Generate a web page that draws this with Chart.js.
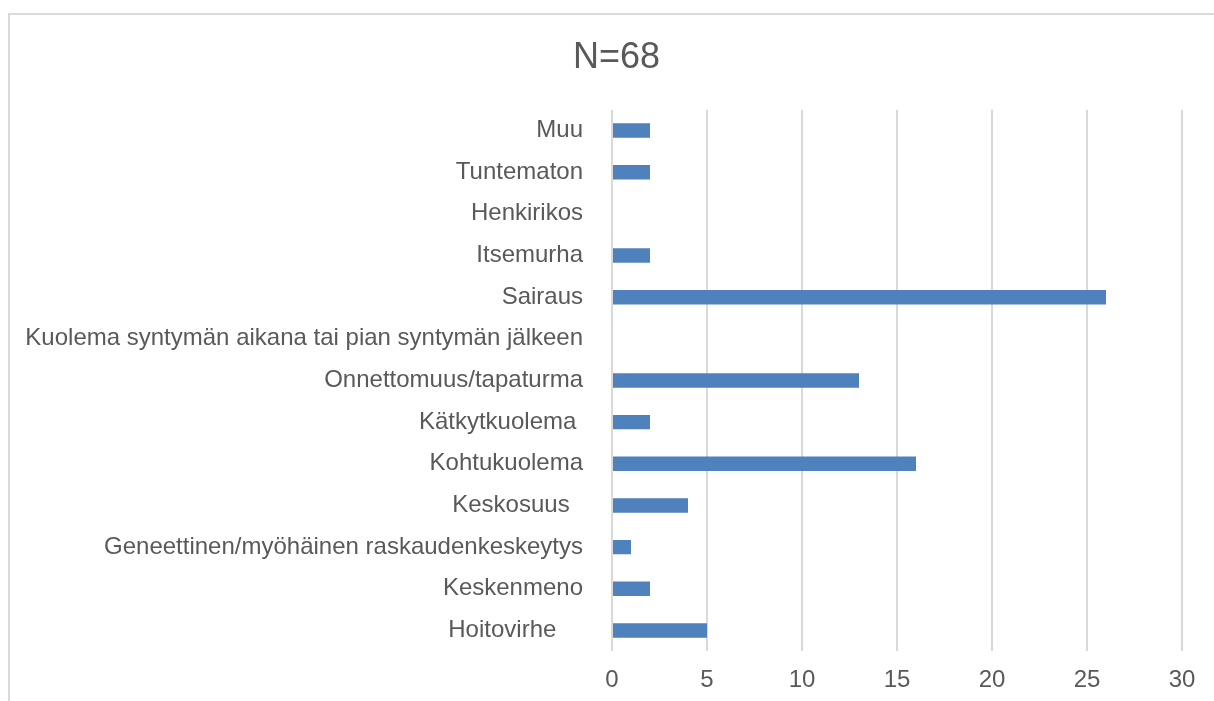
<!DOCTYPE html>
<html>
<head>
<meta charset="utf-8">
<script src="https://cdn.jsdelivr.net/npm/chart.js@4/dist/chart.umd.min.js"></script>
<style>
  html, body { margin: 0; padding: 0; background: #ffffff; }
  #wrap { position: relative; width: 1214px; height: 701px; overflow: hidden; }
  #frame { position: absolute; left: 8px; top: 13px; width: 1300px; height: 800px;
           border-left: 2px solid #d9d9d9; border-top: 2px solid #d9d9d9; pointer-events: none; }
  canvas { position: absolute; left: 0; top: 0; }
</style>
</head>
<body>
<div id="wrap">
  <canvas id="c" width="1214" height="701"></canvas>
  <div id="frame"></div>
</div>
<script>
const categories = [
  "Muu",
  "Tuntematon",
  "Henkirikos",
  "Itsemurha",
  "Sairaus",
  "Kuolema syntymän aikana tai pian syntymän jälkeen",
  "Onnettomuus/tapaturma",
  "Kätkytkuolema ",
  "Kohtukuolema",
  "Keskosuus  ",
  "Geneettinen/myöhäinen raskaudenkeskeytys",
  "Keskenmeno",
  "Hoitovirhe    "
];
const values = [2, 2, 0, 2, 26, 0, 13, 2, 16, 4, 1, 2, 5];
const xTicks = [0, 5, 10, 15, 20, 25, 30];
const titleText = "N=68";

const FONT = "'Liberation Sans', Arial, sans-serif";
const TXT = "#595959";

// shift the title block so it is centred on the framed chart like the original
const titleShift = {
  id: 'titleShift',
  afterLayout(chart) {
    const t = chart.titleBlock;
    if (t) { t.left += 51; t.width = t.right - t.left; }
  }
};

new Chart(document.getElementById('c'), {
  type: 'bar',
  data: {
    labels: categories,
    datasets: [{
      data: values,
      backgroundColor: '#4f81bd',
      borderWidth: 0,
      barPercentage: 0.346,
      categoryPercentage: 1.0
    }]
  },
  options: {
    indexAxis: 'y',
    responsive: false,
    animation: false,
    devicePixelRatio: 1,
    layout: { padding: { top: 0, right: 32, bottom: 0, left: 0 } },
    plugins: {
      legend: { display: false },
      tooltip: { enabled: false },
      title: {
        display: true,
        text: titleText,
        color: TXT,
        font: { family: FONT, size: 36, weight: 'normal', lineHeight: 1.2 },
        padding: { top: 36, bottom: 30.5 }
      }
    },
    scales: {
      x: {
        min: xTicks[0],
        max: xTicks[xTicks.length - 1],
        afterBuildTicks: (s) => { s.ticks = xTicks.map(v => ({ value: v })); },
        ticks: { color: TXT, font: { family: FONT, size: 24 }, padding: 15, maxRotation: 0 },
        grid: { color: '#d9d9d9', lineWidth: 2, drawTicks: false },
        border: { display: false },
        afterFit: (s) => { s.height = 49.7; }
      },
      y: {
        ticks: { color: TXT, font: { family: FONT, size: 24 }, padding: 29, autoSkip: false },
        grid: { display: false, drawTicks: false },
        border: { display: false },
        afterFit: (s) => { s.width = 612; }
      }
    }
  },
  plugins: [titleShift]
});
</script>
</body>
</html>
